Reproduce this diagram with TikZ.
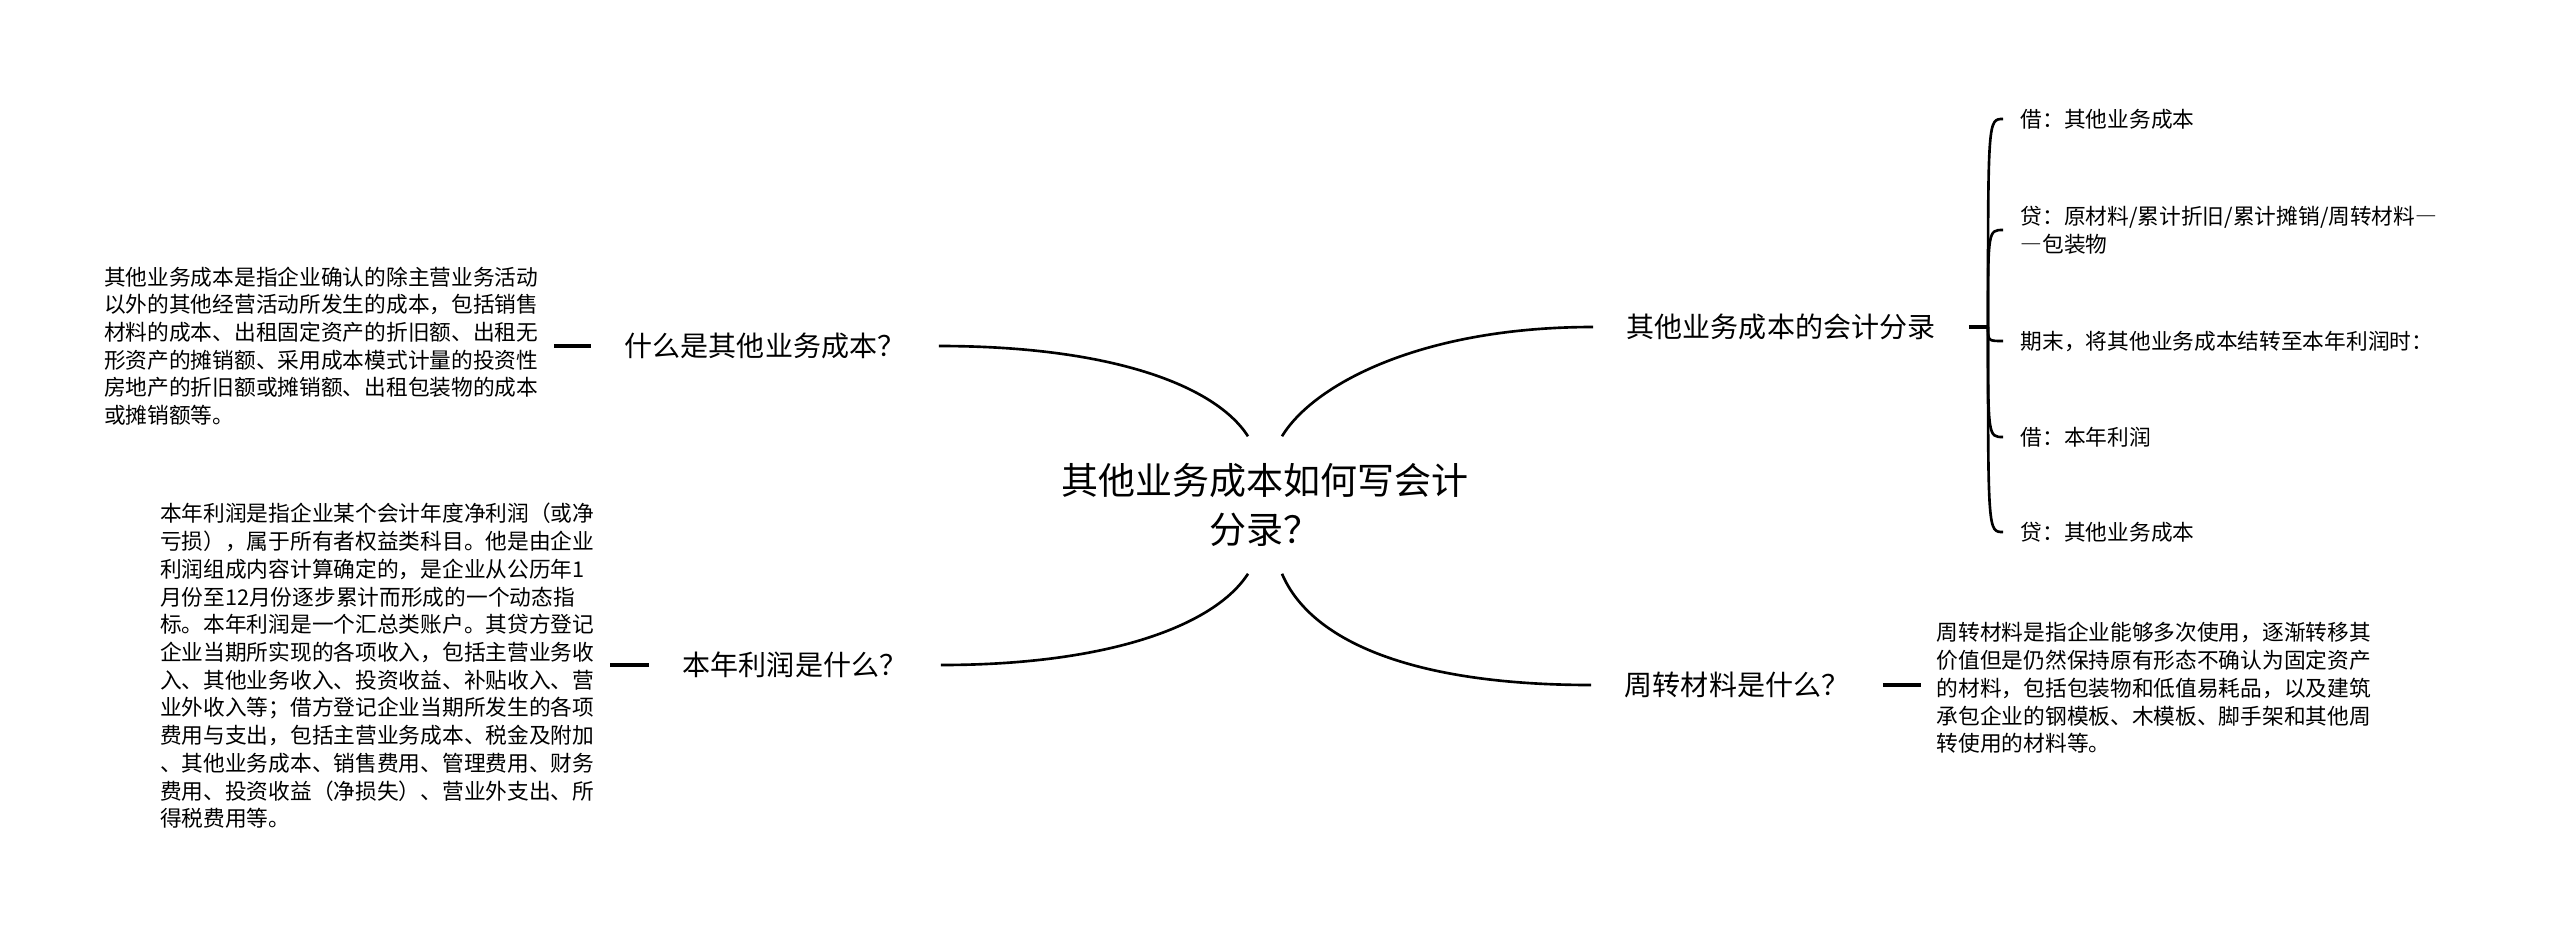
\documentclass[tikz,border=0pt]{standalone}
\usepackage{fontspec}
\setmainfont{Noto Sans CJK SC}
\newcommand{\fwdash}{{\addfontfeature{RawFeature=+fwid}—}}
\begin{document}
\begin{tikzpicture}[x=0.01cm,y=-0.01cm,
  root/.style={align=center,inner sep=0pt,minimum height=1.36cm,font=\fontsize{0.37cm}{0.49cm}\selectfont},
  topic/.style={inner xsep=0.33cm,inner ysep=0.05cm,font=\fontsize{0.28cm}{0.34cm}\selectfont},
  note/.style={align=left,inner xsep=0.15cm,font=\fontsize{0.217cm}{0.277cm}\selectfont},
  leaf/.style={note,anchor=west,inner xsep=0.17cm},
  branch/.style={line width=0.75pt},
  stub/.style={line width=1.1pt}]
\useasboundingbox (0,0) rectangle (2560,939);
\node[root] (root) at (1265,505) {其他业务成本如何写会计\\分录？};
\node[topic] (q1) at (765,346) {什么是其他业务成本？};
\node[topic] (q2) at (795,665) {本年利润是什么？};
\node[topic] (q3) at (1781,327) {其他业务成本的会计分录};
\node[topic] (q4) at (1737,685) {周转材料是什么？};
\node[note,anchor=east] (d1) at (554,346) {其他业务成本是指企业确认的除主营业务活动\\
以外的其他经营活动所发生的成本，包括销售\\
材料的成本、出租固定资产的折旧额、出租无\\
形资产的摊销额、采用成本模式计量的投资性\\
房地产的折旧额或摊销额、出租包装物的成本\\
或摊销额等。};
\node[note,anchor=east] (d2) at (610,666) {本年利润是指企业某个会计年度净利润（或净\\
亏损），属于所有者权益类科目。他是由企业\\
利润组成内容计算确定的，是企业从公历年1\\
月份至12月份逐步累计而形成的一个动态指\\
标。本年利润是一个汇总类账户。其贷方登记\\
企业当期所实现的各项收入，包括主营业务收\\
入、其他业务收入、投资收益、补贴收入、营\\
业外收入等；借方登记企业当期所发生的各项\\
费用与支出，包括主营业务成本、税金及附加\\
、其他业务成本、销售费用、管理费用、财务\\
费用、投资收益（净损失）、营业外支出、所\\
得税费用等。};
\node[note,anchor=west] (d3) at (1921,688) {周转材料是指企业能够多次使用，逐渐转移其\\
价值但是仍然保持原有形态不确认为固定资产\\
的材料，包括包装物和低值易耗品，以及建筑\\
承包企业的钢模板、木模板、脚手架和其他周\\
转使用的材料等。};
\node[leaf] (l1) at (2003,119) {借：其他业务成本};
\node[leaf] (l2) at (2003,230) {贷：原材料/累计折旧/累计摊销/周转材料\fwdash\\\fwdash 包装物};
\node[leaf] (l3) at (2003,341) {期末，将其他业务成本结转至本年利润时：};
\node[leaf] (l4) at (2003,437) {借：本年利润};
\node[leaf] (l5) at (2003,532) {贷：其他业务成本};
\coordinate (rb) at (1988,327);
% main branches
\draw[branch] ([xshift=-0.17cm]root.north) .. controls (1215,385) and (1110,346) .. (q1.east);
\draw[branch] ([xshift=0.17cm]root.north) .. controls (1313,385) and (1420,327) .. (q3.west);
\draw[branch] ([xshift=-0.17cm]root.south) .. controls (1215,625) and (1110,665) .. (q2.east);
\draw[branch] ([xshift=0.17cm]root.south) .. controls (1310,640) and (1410,685) .. (q4.west);
% short links
\draw[stub] (d1) -- (q1);
\draw[stub] (d2.east |- q2) -- (q2);
\draw[stub] (q4) -- (q4 -| d3.west);
\draw[stub] (q3) -- (rb);
% bracket
\foreach \l in {l1,l2,l3,l4,l5}
  \draw[branch] (rb) .. controls (rb |- \l.west) .. (\l.west);
\end{tikzpicture}
\end{document}
